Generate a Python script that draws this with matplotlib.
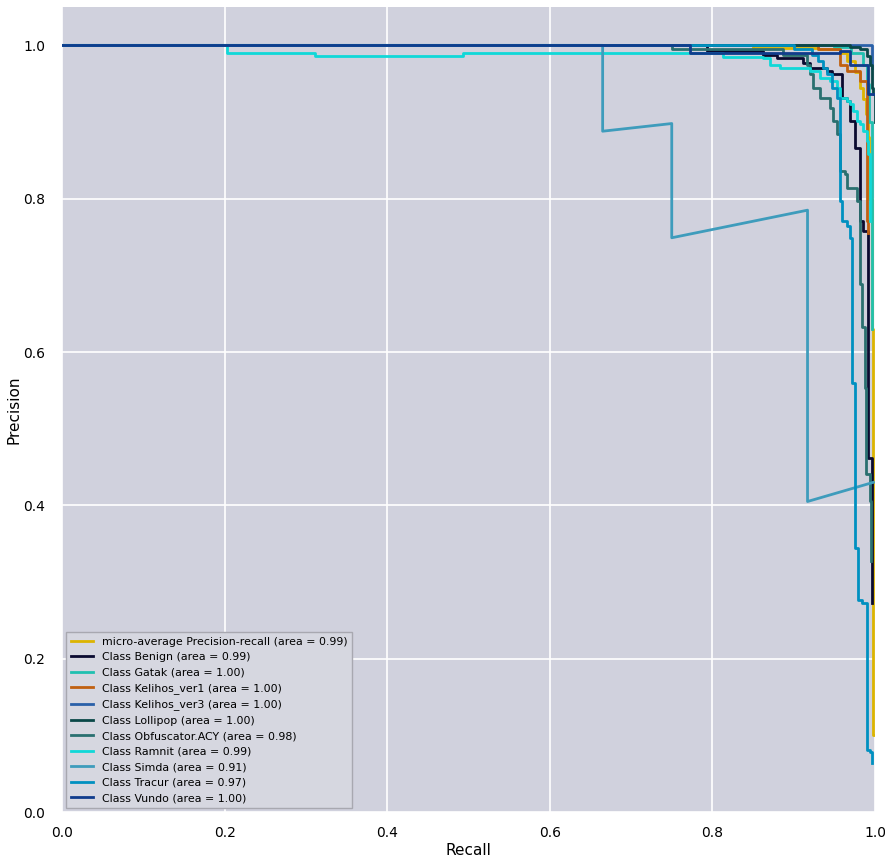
import matplotlib
matplotlib.use("Agg")
import matplotlib.pyplot as plt

# precision-recall points (recall, precision)
micro_r = [0, 0.85, 0.93, 0.957, 0.966, 0.975, 0.982, 0.985, 0.989, 0.991, 0.993, 0.996, 0.997, 0.998, 1.0]
micro_p = [1, 0.997, 0.995, 0.99, 0.98, 0.965, 0.945, 0.93, 0.91, 0.88, 0.80, 0.63, 0.40, 0.10, 0.10]

benign_r = [0, 0.793, 0.793, 0.862, 0.879, 0.911, 0.920, 0.941, 0.947, 0.959, 0.959, 0.966, 0.969,
            0.975, 0.982, 0.982, 0.985, 0.991, 0.991, 0.996, 0.996]
benign_p = [1, 1, 0.993, 0.988, 0.983, 0.977, 0.970, 0.966, 0.962, 0.953, 0.931, 0.927, 0.901,
            0.866, 0.814, 0.771, 0.758, 0.723, 0.462, 0.458, 0.272]

gatak_r = [0, 0.95, 0.97, 0.985, 0.99, 0.993, 0.996, 0.996]
gatak_p = [1, 0.998, 0.99, 0.975, 0.95, 0.90, 0.80, 0.63]

kel1_r = [0, 0.93, 0.957, 0.957, 0.966, 0.982, 0.982, 0.990, 0.990, 0.992]
kel1_p = [1, 0.995, 0.995, 0.975, 0.966, 0.966, 0.953, 0.949, 0.771, 0.755]

kel3_r = [0, 0.996, 0.996]
kel3_p = [1, 1, 0.97]

lolli_r = [0, 0.969, 0.981, 0.990, 0.994, 0.996, 0.998, 1.0]
lolli_p = [1, 0.998, 0.995, 0.986, 0.975, 0.944, 0.936, 0.90]

obf_r = [0, 0.75, 0.887, 0.916, 0.920, 0.924, 0.932, 0.941, 0.945, 0.948, 0.953, 0.957, 0.957, 0.963,
         0.966, 0.978, 0.978, 0.982, 0.984, 0.988, 0.989, 0.994, 0.994, 0.995]
obf_p = [1, 0.995, 0.988, 0.975, 0.962, 0.944, 0.931, 0.931, 0.918, 0.901, 0.884, 0.871, 0.836, 0.832,
         0.814, 0.806, 0.797, 0.689, 0.632, 0.553, 0.441, 0.436, 0.406, 0.328]

ramnit_r = [0, 0.203, 0.203, 0.311, 0.311, 0.493, 0.493, 0.813, 0.813, 0.862, 0.871, 0.883, 0.911,
            0.920, 0.932, 0.941, 0.945, 0.953, 0.957, 0.966, 0.969, 0.973, 0.978, 0.982, 0.985,
            0.990, 0.991, 0.994, 0.994]
ramnit_p = [1, 1, 0.990, 0.990, 0.986, 0.986, 0.990, 0.990, 0.985, 0.983, 0.975, 0.970, 0.970,
            0.966, 0.957, 0.957, 0.953, 0.944, 0.931, 0.927, 0.923, 0.914, 0.901, 0.897, 0.888,
            0.875, 0.858, 0.836, 0.771]

simda_r = [0, 0.665, 0.665, 0.75, 0.75, 0.917, 0.917, 0.998]
simda_p = [1, 1, 0.888, 0.898, 0.749, 0.785, 0.405, 0.43]

tracur_r = [0, 0.90, 0.9225, 0.930, 0.936, 0.941, 0.947, 0.953, 0.957, 0.957, 0.959, 0.966, 0.969,
            0.972, 0.975, 0.975, 0.979, 0.979, 0.984, 0.990, 0.990, 0.994, 0.996]
tracur_p = [1, 0.995, 0.988, 0.979, 0.970, 0.962, 0.944, 0.931, 0.927, 0.797, 0.771, 0.764, 0.749,
            0.559, 0.556, 0.345, 0.344, 0.276, 0.272, 0.263, 0.081, 0.078, 0.064]

vundo_r = [0, 0.772, 0.772, 0.957, 0.969, 0.969, 0.991, 0.991, 1.0]
vundo_p = [1, 1, 0.99, 0.992, 0.992, 0.975, 0.975, 0.936, 0.936]

labels = ["micro-average Precision-recall (area = 0.99)",
          "Class Benign (area = 0.99)",
          "Class Gatak (area = 1.00)",
          "Class Kelihos_ver1 (area = 1.00)",
          "Class Kelihos_ver3 (area = 1.00)",
          "Class Lollipop (area = 1.00)",
          "Class Obfuscator.ACY (area = 0.98)",
          "Class Ramnit (area = 0.99)",
          "Class Simda (area = 0.91)",
          "Class Tracur (area = 0.97)",
          "Class Vundo (area = 1.00)"]
colors = ["#dcb400", "#0a0a30", "#20c0b0", "#c06010", "#2a60a8", "#0a4848",
          "#2a7070", "#10d8d8", "#3e9cbc", "#0090c0", "#103c8c"]
curves = [(micro_r, micro_p), (benign_r, benign_p), (gatak_r, gatak_p), (kel1_r, kel1_p),
          (kel3_r, kel3_p), (lolli_r, lolli_p), (obf_r, obf_p), (ramnit_r, ramnit_p),
          (simda_r, simda_p), (tracur_r, tracur_p), (vundo_r, vundo_p)]

fig = plt.figure(figsize=(8.85, 8.59), dpi=100)
ax = fig.add_axes([62 / 885, 47 / 859, 813 / 885, 805 / 859])
ax.set_facecolor("#d0d1dd")
for s in ax.spines.values():
    s.set_visible(False)
ax.grid(True, color="white", linewidth=1.2)
ax.set_axisbelow(True)

for (r, p), c, lab in zip(curves, colors, labels):
    if lab.startswith("Class Simda"):
        ax.plot(r, p, color=c, lw=2, label=lab)
    else:
        ax.plot(r, p, color=c, lw=2, label=lab, drawstyle="steps-post")

ax.set_xlim(0, 1.0)
ax.set_ylim(0, 1.05)
ax.set_xticks([0, 0.2, 0.4, 0.6, 0.8, 1.0])
ax.set_yticks([0, 0.2, 0.4, 0.6, 0.8, 1.0])
ax.tick_params(axis="both", length=0, labelsize=10)
ax.tick_params(axis="y", pad=12)
ax.tick_params(axis="x", pad=10)
ax.set_xlabel("Recall", fontsize=11, labelpad=2)
ax.set_ylabel("Precision", fontsize=11, labelpad=1)

leg = ax.legend(loc="lower left", fontsize=7.9, facecolor="#d6d7e0", edgecolor="#a8a8b0",
                framealpha=1, fancybox=False, borderaxespad=0.4)
leg.get_frame().set_linewidth(1.0)

fig.savefig("out.png", dpi=100)
